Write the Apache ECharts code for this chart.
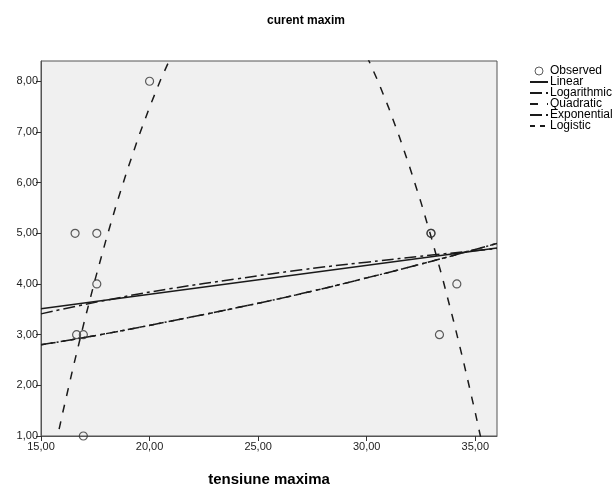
<!DOCTYPE html>
<html><head><meta charset="utf-8">
<script src="https://cdn.jsdelivr.net/npm/echarts@6/dist/echarts.min.js"></script>
<style>html,body{margin:0;padding:0;background:#fff}#c{width:615px;height:486px}</style>
</head><body><div id="c"></div>
<script>
// Observed values (tensiune maxima, curent maxim)
const obsX = [20.0, 16.57, 17.57, 17.57, 16.64, 16.95, 16.95, 32.96, 32.96, 34.15, 33.35];
const obsY = [8, 5, 5, 4, 3, 3, 1, 5, 5, 4, 3];
// Fitted curves
const linX = [15, 36];
const linY = [3.51, 4.71];
const logX = [15, 18, 21, 24, 27, 30, 33, 36];
const logY = [3.41, 3.68, 3.91, 4.10, 4.28, 4.43, 4.57, 4.70];
const quadX = [15.5,16,16.5,17,17.5,18,18.5,19,19.5,20,20.5,21,null,30,30.5,31,31.5,32,32.5,33,33.5,34,34.5,35,35.5];
const quadY = [0.48,1.46,2.39,3.27,4.10,4.88,5.61,6.28,6.91,7.49,8.02,8.50,null,8.50,8.02,7.49,6.91,6.28,5.61,4.88,4.10,3.27,2.39,1.46,0.48];
const expX = [15, 18, 21, 24, 27, 30, 33, 36];
const expY = [2.80, 3.02, 3.27, 3.53, 3.81, 4.12, 4.45, 4.80];
const lgsY = [2.80, 3.02, 3.27, 3.53, 3.81, 4.12, 4.45, 4.80];
const xTicks = [15, 20, 25, 30, 35];
const yTicks = [1, 2, 3, 4, 5, 6, 7, 8];

const pairs = (xs, ys) => xs.map((x, i) => (x === null ? [null, null] : [x, ys[i]]));
const fmt = v => v.toFixed(2).replace('.', ',');
const FONT = 'Arial, "Liberation Sans", sans-serif';
const C = '#1a1a1a';
const hideDot = {color: 'transparent', borderWidth: 0, opacity: 0};

const chart = echarts.init(document.getElementById('c'), null, {renderer: 'canvas'});
chart.setOption({
  animation: false,
  color: [C, C, C, C, C, C],
  title: {text: 'curent maxim', left: 301, top: 10, textAlign: 'center',
    textStyle: {fontFamily: FONT, fontSize: 12, fontWeight: 'bold', color: '#000'}},
  legend: {orient: 'vertical', left: 529, top: 65, padding: 0, itemWidth: 18, itemHeight: 8, itemGap: -1,
    textStyle: {fontFamily: FONT, fontSize: 12, lineHeight: 11, color: '#000', padding: [0, 0, 0, -3]},
    data: [
      {name: 'Observed', icon: 'circle', itemStyle: {color: 'transparent', borderColor: '#333', borderWidth: 1}},
      {name: 'Linear', itemStyle: hideDot}, {name: 'Logarithmic', itemStyle: hideDot},
      {name: 'Quadratic', itemStyle: hideDot}, {name: 'Exponential', itemStyle: hideDot},
      {name: 'Logistic', itemStyle: hideDot}
    ]},
  grid: {left: 41, top: 61, width: 456, height: 375, show: true, backgroundColor: '#f0f0f0',
    borderColor: '#555', borderWidth: 1, outerBoundsMode: 'none', containLabel: false},
  xAxis: {type: 'value', min: 15, max: 36, interval: 5,
    name: 'tensiune maxima', nameLocation: 'middle', nameGap: 36,
    nameTextStyle: {fontFamily: FONT, fontSize: 15, fontWeight: 'bold', color: '#000'},
    axisLine: {lineStyle: {color: '#555'}},
    axisTick: {length: 5, customValues: xTicks, lineStyle: {color: '#333'}},
    axisLabel: {fontFamily: FONT, fontSize: 11, color: '#222', margin: 5, customValues: xTicks,
      formatter: v => fmt(v)},
    splitLine: {show: false}},
  yAxis: {type: 'value', min: 1, max: 8.4, interval: 1,
    axisLine: {show: true, lineStyle: {color: '#555'}},
    axisTick: {show: true, length: 5, customValues: yTicks, lineStyle: {color: '#333'}},
    axisLabel: {fontFamily: FONT, fontSize: 11, color: '#222', margin: 3, customValues: yTicks,
      formatter: v => fmt(v)},
    splitLine: {show: false}},
  series: [
    {name: 'Observed', type: 'scatter', symbol: 'circle', symbolSize: 8,
      itemStyle: {color: 'transparent', borderColor: '#333', borderWidth: 1.2},
      data: pairs(obsX, obsY), z: 5},
    {name: 'Linear', type: 'line', showSymbol: false, symbol: 'none', clip: true,
      lineStyle: {color: C, width: 1.5, type: 'solid'}, data: pairs(linX, linY)},
    {name: 'Logarithmic', type: 'line', showSymbol: false, symbol: 'none', smooth: true, clip: true,
      lineStyle: {color: C, width: 1.5, type: [12, 4, 3, 4]}, data: pairs(logX, logY)},
    {name: 'Quadratic', type: 'line', showSymbol: false, symbol: 'none', clip: true, connectNulls: false,
      lineStyle: {color: C, width: 1.5, type: [8, 9]}, data: pairs(quadX, quadY)},
    {name: 'Exponential', type: 'line', showSymbol: false, symbol: 'none', smooth: true, clip: true,
      lineStyle: {color: C, width: 1.5, type: [12, 4, 2, 4]}, data: pairs(expX, expY)},
    {name: 'Logistic', type: 'line', showSymbol: false, symbol: 'none', smooth: true, clip: true,
      lineStyle: {color: C, width: 1.5, type: [5, 5]}, data: pairs(expX, lgsY)}
  ]
});
</script></body></html>
